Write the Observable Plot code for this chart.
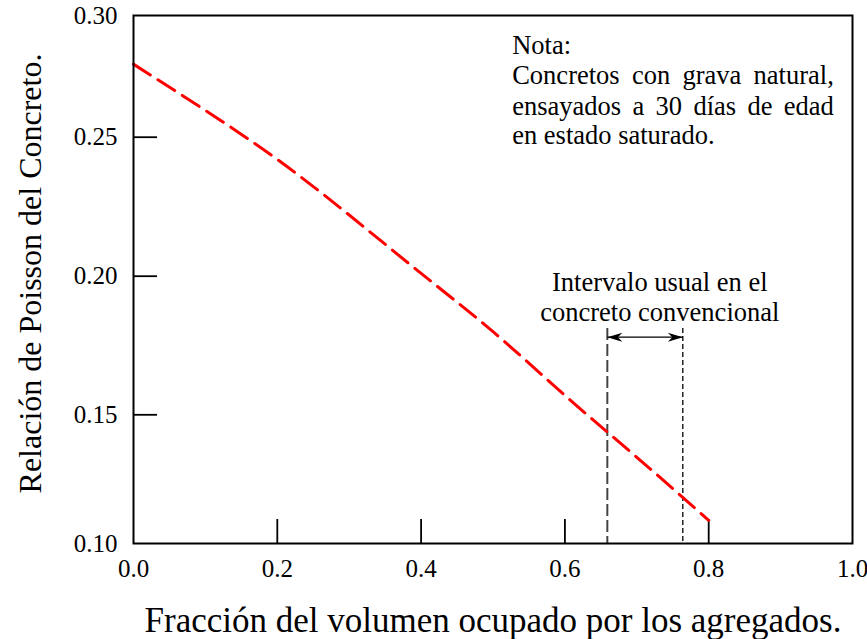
<!DOCTYPE html>
<html><head><meta charset="utf-8">
<script src="https://cdn.jsdelivr.net/npm/d3@7"></script>
<script src="https://cdn.jsdelivr.net/npm/@observablehq/plot@0.6"></script>
<style>body{margin:0;background:#fff}</style>
</head><body><div id="chart"></div>
<script>
// ---- data ----
const fraction = [0, 0.1, 0.2, 0.3, 0.4, 0.5, 0.6, 0.7, 0.8];
const poisson  = [0.280, 0.261, 0.242, 0.222, 0.201, 0.180, 0.157, 0.1335, 0.109];
const xTicks = [0, 0.2, 0.4, 0.6, 0.8, 1.0];
const xTickLabels = ["0.0", "0.2", "0.4", "0.6", "0.8", "1.0"];
const yTicks = [0.10, 0.15, 0.20, 0.25, 0.30];
const yTickLabels = ["0.10", "0.15", "0.20", "0.25", "0.30"];
const xInnerTicks = [0.2, 0.4, 0.6, 0.8];
const yInnerTicks = [0.15, 0.20, 0.25];
const intervalStart = 0.659, intervalEnd = 0.764, intervalTop = 0.1811, arrowY = 0.178;
const noteLines = ["Nota:", "Concretos con grava natural,", "ensayados a 30 días de edad", "en estado saturado."];
const noteY = [0.2840, 0.2717, 0.2593, 0.2474];
const noteJustify = [false, true, true, false];
const noteX = 0.5267, noteRight = 0.974;
const intervalLines = ["Intervalo usual en el", "concreto convencional"];
const intervalLabelY = [0.1948, 0.1840];
const intervalLabelX = 0.732;
const xTitle = "Fracción del volumen ocupado por los agregados.";
const yTitle = "Relación de Poisson del Concreto.";

// ---- layout ----
const W = 867, H = 639;
const mL = 133, mR = 15, mT = 15, mB = 96;
const innerW = W - mL - mR, innerH = H - mT - mB;

// the original drawing's y ticks are slightly unevenly spaced:
// map each tick value to its drawn fraction of the axis height
const yWarp = d3.scaleLinear().domain(yTicks).range([0.10, 0.14875, 0.20125, 0.2539, 0.30]);

const curve = fraction.map((f, i) => ({f, p: poisson[i]}));
const notes = noteLines.map((t, i) => ({t, y: noteY[i], j: noteJustify[i]}));
const ivLabels = intervalLines.map((t, i) => ({t, y: intervalLabelY[i]}));
const yLabels = yTicks.map((v, i) => ({v, t: yTickLabels[i]}));
const interval = [{s: intervalStart, e: intervalEnd, top: intervalTop, y: arrowY, base: yTicks[0]}];

const headRight = {draw(ctx) { ctx.moveTo(0, 0); ctx.lineTo(-15, -4.5); ctx.lineTo(-10.5, 0); ctx.lineTo(-15, 4.5); ctx.closePath(); }};
const headLeft  = {draw(ctx) { ctx.moveTo(0, 0); ctx.lineTo(15, -4.5); ctx.lineTo(10.5, 0); ctx.lineTo(15, 4.5); ctx.closePath(); }};

const chart = Plot.plot({
  width: W, height: H,
  marginLeft: mL, marginRight: mR, marginTop: mT, marginBottom: mB,
  style: {fontFamily: "'Liberation Serif', 'Times New Roman', serif", fontSize: "25px", color: "black", background: "white"},
  x: {domain: [0, 1]},
  y: {domain: [0.10, 0.30], transform: (v) => yWarp(v), axis: null},
  marks: [
    Plot.axisX({ticks: xTicks, tickFormat: (d) => xTickLabels[xTicks.findIndex(v => Math.abs(v - d) < 1e-9)], tickSize: 0, tickPadding: 16, label: null, fontSize: 25}),
    Plot.text(yLabels, {y: "v", text: "t", frameAnchor: "left", textAnchor: "end", lineAnchor: "middle", dx: -16, fontSize: 25, fill: "black"}),
    Plot.ruleX(xInnerTicks, {stroke: "black", strokeWidth: 1.8, insetTop: innerH - 24}),
    Plot.ruleY(yInnerTicks, {stroke: "black", strokeWidth: 1.8, insetRight: innerW - 24}),
    // interval lines
    Plot.ruleX(interval, {x: "s", y1: "top", y2: "base", stroke: "#444", strokeWidth: 2, strokeDasharray: "12,4"}),
    Plot.ruleX(interval, {x: "e", y1: "top", y2: "base", stroke: "black", strokeWidth: 1.3, strokeDasharray: "5,3"}),
    Plot.link(interval, {x1: "s", x2: "e", y1: "y", y2: "y", stroke: "black", strokeWidth: 1.2}),
    Plot.dot(interval, {x: "e", y: "y", symbol: headRight, fill: "black", stroke: "none", r: 5}),
    Plot.dot(interval, {x: "s", y: "y", symbol: headLeft, fill: "black", stroke: "none", r: 5}),
    // curve
    Plot.line(curve, {x: "f", y: "p", curve: "natural", stroke: "#ff0000", strokeWidth: 3, strokeDasharray: "20,9"}),
    // annotations
    Plot.text(notes, {x: () => noteX, y: "y", text: "t", textAnchor: "start", lineAnchor: "bottom", fontSize: 26.5, fill: "black"}),
    Plot.text(ivLabels, {x: () => intervalLabelX, y: "y", text: "t", textAnchor: "middle", lineAnchor: "bottom", fontSize: 26.5, fill: "black"}),
    // titles
    Plot.text([yTitle], {frameAnchor: "left", dx: -103, dy: -6, rotate: -90, textAnchor: "middle", lineAnchor: "middle", fontSize: 32, fill: "black"}),
    Plot.text([xTitle], {frameAnchor: "bottom", dy: 77, textAnchor: "middle", lineAnchor: "middle", fontSize: 35, fill: "black"}),
    Plot.frame({stroke: "black", strokeWidth: 2})
  ]
});
document.getElementById("chart").appendChild(chart);

// justify the note lines
const xs = chart.scale("x");
const target = xs.apply(noteRight) - xs.apply(noteX);
chart.querySelectorAll("text").forEach(node => {
  const idx = noteLines.indexOf(node.textContent);
  if (idx >= 0 && noteJustify[idx]) {
    const len = node.getComputedTextLength();
    const spaces = (node.textContent.match(/ /g) || []).length;
    if (spaces > 0 && target > len) node.style.wordSpacing = ((target - len) / spaces) + "px";
  }
});
</script>
</body></html>
